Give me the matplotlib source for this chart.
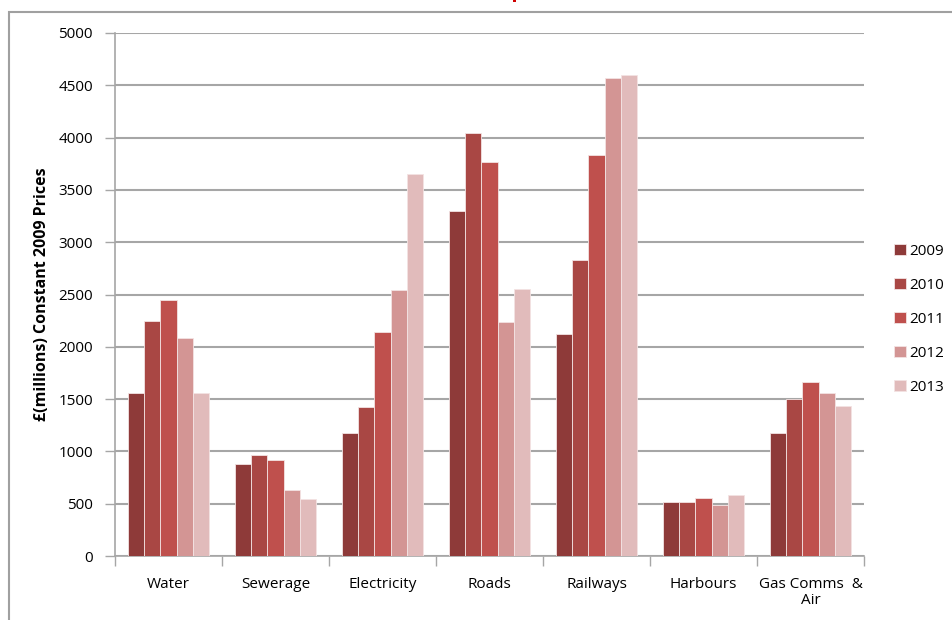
import numpy as np
import matplotlib.pyplot as plt
from matplotlib.patches import Rectangle

# capital spend by sector, £ millions at 2009 prices
sectors = ['Water', 'Sewerage', 'Electricity', 'Roads', 'Railways', 'Harbours', 'Gas Comms  &\nAir']
years = ['2009', '2010', '2011', '2012', '2013']
spend_2009 = [1555, 875, 1180, 3295, 2125, 515, 1178]
spend_2010 = [2245, 965, 1425, 4045, 2830, 515, 1500]
spend_2011 = [2450, 915, 2140, 3765, 3830, 555, 1662]
spend_2012 = [2085, 635, 2540, 2235, 4565, 490, 1557]
spend_2013 = [1555, 545, 3655, 2550, 4600, 582, 1435]
colours = ['#8e3a39', '#a94744', '#bf504d', '#d39594', '#e1bbbb']

plt.rcParams['font.family'] = ['Open Sans', 'DejaVu Sans']

fig = plt.figure(figsize=(9.53, 6.2), dpi=100)
ax = fig.add_axes([0.1207, 0.1032, 0.7859, 0.8436])

series = [spend_2009, spend_2010, spend_2011, spend_2012, spend_2013]
x = np.arange(len(sectors))
w = 0.15
for i, vals in enumerate(series):
    ax.bar(x + (i - 2) * w, vals, width=w, color=colours[i], edgecolor='#f3e3e3',
           linewidth=0.6, label=years[i], zorder=3)

ax.set_xlim(-0.5, len(sectors) - 0.5)
ax.set_ylim(0, 5000)
ax.set_yticks(np.arange(0, 5001, 500))
ax.yaxis.grid(True, color='#a6a6a6', linewidth=1.5, zorder=0)
ax.set_axisbelow(True)

ax.set_xticks(x)
ax.set_xticklabels(sectors, fontsize=11, linespacing=1.1)
ax.set_xticks(np.arange(-0.5, len(sectors)), minor=True)
ax.tick_params(axis='x', which='major', length=0, pad=15)
ax.tick_params(axis='x', which='minor', length=7, color='#a6a6a6', width=1)
ax.tick_params(axis='y', length=7, color='#a6a6a6', width=1, labelsize=11, pad=9)

for s in ['top', 'right']:
    ax.spines[s].set_visible(False)
for s in ['left', 'bottom']:
    ax.spines[s].set_color('#a6a6a6')
    ax.spines[s].set_linewidth(1.2)

ax.set_ylabel('£(millions) Constant 2009 Prices', fontsize=11.5, fontweight='bold', labelpad=6)

leg = ax.legend(loc='center left', bbox_to_anchor=(0.932, 0.485), bbox_transform=fig.transFigure,
                frameon=False, fontsize=11, handlelength=0.75, handleheight=0.75,
                handletextpad=0.25, labelspacing=1.25, borderaxespad=0)

# chart border, plus the red tail of the heading above it
fig.patches.append(Rectangle((9 / 953, -0.1), 1.2, 1 - 12 / 620 + 0.1, transform=fig.transFigure,
                             fill=False, edgecolor='#a0a0a0', linewidth=1.5))
fig.patches.append(Rectangle((513 / 953, 1 - 2 / 620), 3 / 953, 2 / 620, transform=fig.transFigure,
                             color='#d00000', linewidth=0))

fig.savefig('out.png', dpi=100)
